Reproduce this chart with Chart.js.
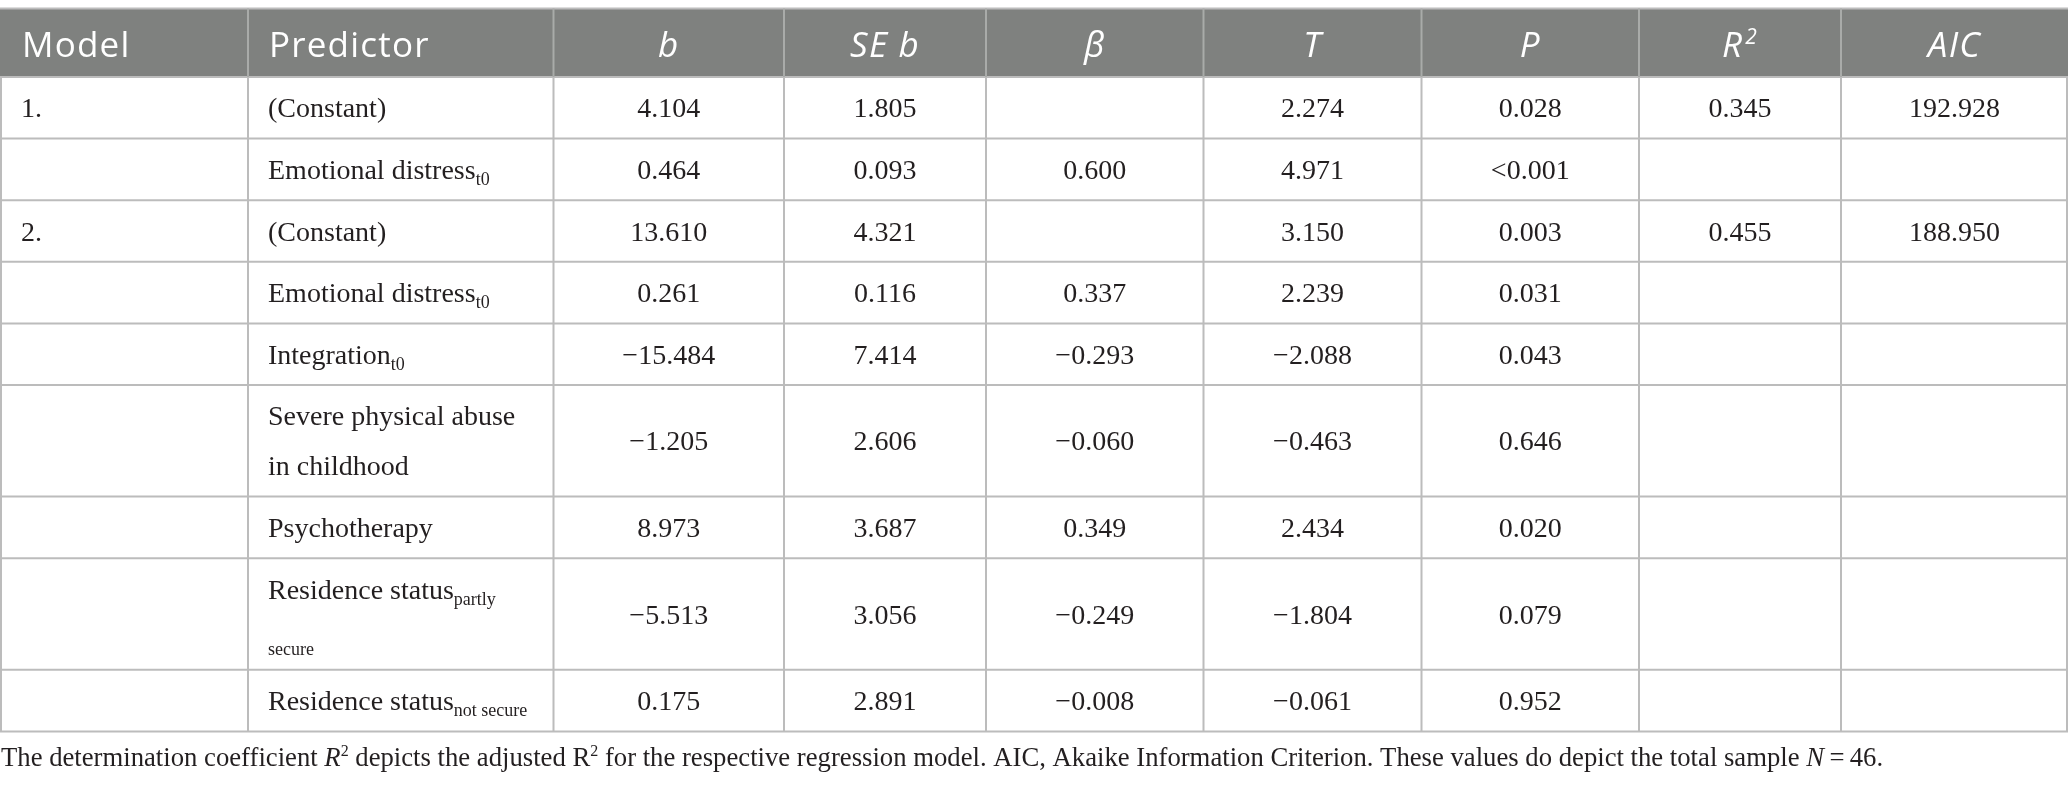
<!DOCTYPE html>
<html>
<head>
<meta charset="utf-8">
<script src="https://cdn.jsdelivr.net/npm/chart.js@4/dist/chart.umd.min.js"></script>
<style>
  html, body { margin: 0; padding: 0; background: #fff; }
  #table { display: block; }
</style>
</head>
<body>
<canvas id="table" width="2068" height="787"></canvas>
<script>
// table content
var headers    = ["Model", "Predictor", "b", "SE b", "\u03b2", "T", "P", "R", "AIC"];
var headerSups = ["", "", "", "", "", "", "", "2", ""];
var headerItal = [false, false, true, true, true, true, true, true, true];

var models       = ["1.", "", "2.", "", "", "", "", "", ""];
var predictors   = ["(Constant)", "Emotional distress", "(Constant)", "Emotional distress", "Integration",
                    "Severe physical abuse in childhood", "Psychotherapy", "Residence status", "Residence status"];
var predictorSub = ["", "t0", "", "t0", "t0", "", "", "partly secure", "not secure"];
var bVals    = [4.104, 0.464, 13.610, 0.261, -15.484, -1.205, 8.973, -5.513, 0.175];
var seVals   = [1.805, 0.093, 4.321, 0.116, 7.414, 2.606, 3.687, 3.056, 2.891];
var betaVals = [null, 0.600, null, 0.337, -0.293, -0.060, 0.349, -0.249, -0.008];
var tVals    = [2.274, 4.971, 3.150, 2.239, -2.088, -0.463, 2.434, -1.804, -0.061];
var pVals    = [0.028, "<0.001", 0.003, 0.031, 0.043, 0.646, 0.020, 0.079, 0.952];
var r2Vals   = [0.345, null, 0.455, null, null, null, null, null, null];
var aicVals  = [192.928, null, 188.950, null, null, null, null, null, null];

// layout (table units, mapped through the chart scales)
var colEdges = [0, 248, 553.5, 784, 986, 1203.5, 1421.5, 1639, 1841, 2068];
var headTop = 8.5, headH = 68.5;
var lineH = 50, rowPad = 11.6, cellPad = 20;

var serif = '"Liberation Serif", "Times New Roman", serif';
var sans = '"Open Sans", "Noto Sans", sans-serif';
var bodySize = 28, subSize = 18, headSize = 35;

function fmt(v) {
    if (v === null || v === undefined) return "";
    if (typeof v === "number") return v.toFixed(3).replace("-", "\u2212");
    return v;
}

function bodyFont(sub) { return (sub ? subSize : bodySize) + "px " + serif; }

// split a predictor into words, each tagged as main text or subscript
function tokens(i) {
    var out = [];
    predictors[i].split(" ").forEach(function (w) { out.push({ t: w, sub: false }); });
    if (predictorSub[i]) {
        predictorSub[i].split(" ").forEach(function (w, k) { out.push({ t: w, sub: true, glue: k === 0 }); });
    }
    return out;
}

function wrap(ctx, toks, maxW) {
    var lines = [[]], w = 0;
    toks.forEach(function (tk) {
        ctx.font = bodyFont(tk.sub);
        var sp = (lines[lines.length - 1].length && !tk.glue) ? ctx.measureText(" ").width : 0;
        var tw = ctx.measureText(tk.t).width;
        if (lines[lines.length - 1].length && w + sp + tw > maxW) {
            lines.push([]); w = 0; sp = 0;
        }
        lines[lines.length - 1].push({ t: tk.t, sub: tk.sub, sp: sp });
        w += sp + tw;
    });
    return lines;
}

var tablePlugin = {
    id: 'tablePlugin',
    afterDraw: function (chart) {
        var ctx = chart.ctx;
        var sx = chart.scales.x, sy = chart.scales.y;
        var X = function (v) { return sx.getPixelForValue(v); };
        var Y = function (v) { return sy.getPixelForValue(v); };
        var predW = colEdges[2] - colEdges[1] - 2 * cellPad;

        // row heights from wrapped predictor text
        var wrapped = predictors.map(function (p, i) { return wrap(ctx, tokens(i), predW); });
        var rowEdges = [headTop, headTop + headH];
        wrapped.forEach(function (ln) {
            rowEdges.push(rowEdges[rowEdges.length - 1] + rowPad + lineH * ln.length);
        });
        var bottom = rowEdges[rowEdges.length - 1];
        var x0 = colEdges[0], x1 = colEdges[colEdges.length - 1];

        ctx.save();
        // header band
        ctx.fillStyle = '#7f817f';
        ctx.fillRect(X(x0), Y(headTop), X(x1) - X(x0), Y(headTop + headH) - Y(headTop));

        // grid
        ctx.lineWidth = 2;
        ctx.strokeStyle = '#bcbcbc';
        rowEdges.forEach(function (r) {
            ctx.beginPath(); ctx.moveTo(X(x0), Y(r)); ctx.lineTo(X(x1), Y(r)); ctx.stroke();
        });
        colEdges.forEach(function (c, k) {
            var cx = X(c) + (k === 0 ? 1 : (k === colEdges.length - 1 ? -1 : 0));
            ctx.strokeStyle = '#bcbcbc';
            ctx.beginPath(); ctx.moveTo(cx, Y(headTop + headH)); ctx.lineTo(cx, Y(bottom)); ctx.stroke();
            if (k > 0 && k < colEdges.length - 1) {
                ctx.strokeStyle = '#a9aba9';
                ctx.beginPath(); ctx.moveTo(cx, Y(headTop)); ctx.lineTo(cx, Y(headTop + headH)); ctx.stroke();
            }
        });

        // header text
        ctx.fillStyle = '#ffffff';
        ctx.textBaseline = 'alphabetic';
        ctx.letterSpacing = '1.2px';
        var hBase = Y(headTop + headH / 2) + 14.5;
        headers.forEach(function (h, k) {
            var f = (headerItal[k] ? 'italic ' : '') + headSize + 'px ' + sans;
            var fs = (headerItal[k] ? 'italic ' : '') + '21px ' + sans;
            ctx.font = f;
            var w = ctx.measureText(h).width;
            ctx.font = fs;
            var ws = headerSups[k] ? ctx.measureText(headerSups[k]).width + 2 : 0;
            var left = k < 2 ? X(colEdges[k]) + (k === 0 ? 22 : cellPad + 1) :
                (X(colEdges[k]) + X(colEdges[k + 1])) / 2 - (w + ws) / 2;
            ctx.font = f;
            ctx.textAlign = 'left';
            ctx.fillText(h, left, hBase);
            if (headerSups[k]) {
                ctx.font = fs;
                ctx.fillText(headerSups[k], left + w + 2, hBase - 13);
            }
        });
        ctx.letterSpacing = '0px';

        // body
        ctx.fillStyle = '#231f20';
        var cols = [bVals, seVals, betaVals, tVals, pVals, r2Vals, aicVals];
        wrapped.forEach(function (lines, i) {
            var top = rowEdges[i + 1], bot = rowEdges[i + 2];
            var mid = Y((top + bot) / 2);
            var base = mid + 9.5;

            ctx.textAlign = 'left';
            ctx.font = bodyFont(false);
            ctx.fillText(models[i], X(colEdges[0]) + 21, base);

            var first = mid - (lines.length - 1) * lineH / 2 + 9.5;
            lines.forEach(function (ln, li) {
                var x = X(colEdges[1]) + cellPad;
                var b = first + li * lineH;
                ln.forEach(function (tk) {
                    ctx.font = bodyFont(tk.sub);
                    x += tk.sp;
                    ctx.fillText(tk.t, x, b + (tk.sub ? 6 : 0));
                    x += ctx.measureText(tk.t).width;
                });
            });

            ctx.textAlign = 'center';
            ctx.font = bodyFont(false);
            cols.forEach(function (arr, c) {
                var cx = (X(colEdges[c + 2]) + X(colEdges[c + 3])) / 2;
                ctx.fillText(fmt(arr[i]), cx, base);
            });
        });

        // footnote
        var note = [
            { t: "The determination coefficient " },
            { t: "R", it: true },
            { t: "2", sup: true },
            { t: " depicts the adjusted R" },
            { t: "2", sup: true },
            { t: " for the respective regression model. AIC, Akaike Information Criterion. These values do depict the total sample " },
            { t: "N", it: true },
            { t: "\u2009=\u200946." }
        ];
        ctx.textAlign = 'left';
        var nx = X(0) + 1, ny = Y(bottom + 35);
        note.forEach(function (p) {
            ctx.font = (p.it ? 'italic ' : '') + (p.sup ? '16px ' : '26.7px ') + serif;
            ctx.fillText(p.t, nx, ny - (p.sup ? 10 : 0));
            nx += ctx.measureText(p.t).width;
        });
        ctx.restore();
    }
};

new Chart(document.getElementById('table'), {
    type: 'scatter',
    data: { datasets: [] },
    options: {
        responsive: false,
        animation: false,
        devicePixelRatio: 1,
        layout: { padding: 0 },
        plugins: { legend: { display: false }, tooltip: { enabled: false } },
        scales: {
            x: { type: 'linear', min: 0, max: 2068, display: false },
            y: { type: 'linear', min: 0, max: 787, reverse: true, display: false }
        }
    },
    plugins: [tablePlugin]
});
</script>
</body>
</html>
